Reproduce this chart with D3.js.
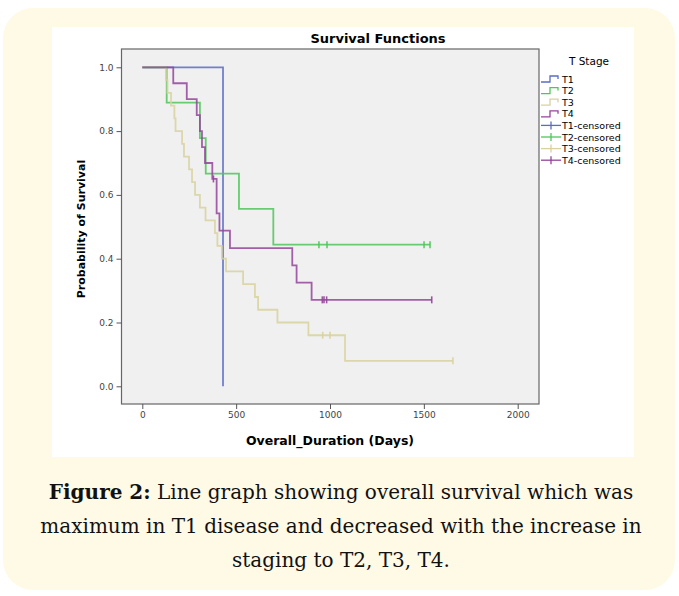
<!DOCTYPE html>
<html>
<head>
<meta charset="utf-8">
<style>
  body { margin: 0; background: #fff; }
</style>
</head>
<body>
<div id="graphic"></div>
<script src="https://d3js.org/d3.v7.min.js"></script>
<script>
// survival steps: event day -> survival after it
var stages = ["T1", "T2", "T3", "T4"];

var t1Days = [430];
var t1Surv = [0.0];
var t1Cens = [];

var t2Days = [130, 307, 338, 515, 698];
var t2Surv = [0.889, 0.778, 0.667, 0.556, 0.444];
var t2Cens = [941, 984, 1501, 1533];

var t3Days = [126, 134, 153, 171, 177, 212, 222, 249, 265, 281, 307, 337, 387, 400, 424, 446, 537, 600, 617, 720, 885, 1080];
var t3Surv = [0.96, 0.92, 0.88, 0.84, 0.80, 0.76, 0.72, 0.68, 0.64, 0.60, 0.56, 0.52, 0.48, 0.44, 0.40, 0.36, 0.32, 0.28, 0.24, 0.20, 0.16, 0.08];
var t3Cens = [961, 1000, 1655];

var t4Days = [165, 237, 290, 307, 318, 334, 373, 396, 411, 467, 799, 822, 902];
var t4Surv = [0.95, 0.90, 0.85, 0.80, 0.75, 0.70, 0.65, 0.542, 0.488, 0.433, 0.379, 0.325, 0.271];
var t4Cens = [379, 959, 968, 982, 1542];

var xTicks = [0, 500, 1000, 1500, 2000];
var yTicks = [0, 0.2, 0.4, 0.6, 0.8, 1.0];

var legendLabels = ["T1", "T2", "T3", "T4", "T1-censored", "T2-censored", "T3-censored", "T4-censored"];
var colors = ["#5b6cc4", "#4fc65a", "#d8d29e", "#93459a"];

var series = [
  {days: t1Days, surv: t1Surv, cens: t1Cens},
  {days: t2Days, surv: t2Surv, cens: t2Cens},
  {days: t3Days, surv: t3Surv, cens: t3Cens},
  {days: t4Days, surv: t4Surv, cens: t4Cens}
];

var sans = '"DejaVu Sans", Verdana, sans-serif';

var svg = d3.select("#graphic").append("svg")
    .attr("width", 679)
    .attr("height", 596);

// cream card + white figure panel
svg.append("rect").attr("x", 3).attr("y", 8).attr("width", 672).attr("height", 582)
    .attr("rx", 30).attr("fill", "#fffae6");
svg.append("rect").attr("x", 52).attr("y", 27).attr("width", 582).attr("height", 430)
    .attr("fill", "#fff");

var plot = {left: 121.5, right: 539, top: 49, bottom: 404};

var x = d3.scaleLinear().domain([0, 2000]).range([142.3, 517.7]);
var y = d3.scaleLinear().domain([0, 1]).range([386.3, 67.3]);

svg.append("rect")
    .attr("x", plot.left).attr("y", plot.top)
    .attr("width", plot.right - plot.left).attr("height", plot.bottom - plot.top)
    .attr("fill", "#f0f0f0")
    .attr("stroke", "#666").attr("stroke-width", 1.2);

svg.append("text")
    .attr("x", 378).attr("y", 43)
    .attr("text-anchor", "middle")
    .style("font-family", sans)
    .style("font-size", "13px").style("font-weight", "bold")
    .text("Survival Functions");

// axes
var gx = svg.append("g")
    .attr("transform", "translate(0," + plot.bottom + ")")
    .call(d3.axisBottom(x).tickValues(xTicks).tickSize(5).tickPadding(3).tickFormat(d3.format("d")));
var gy = svg.append("g")
    .attr("transform", "translate(" + plot.left + ",0)")
    .call(d3.axisLeft(y).tickValues(yTicks).tickSize(5).tickPadding(3).tickFormat(d3.format(".1f")));
[gx, gy].forEach(function (g) {
  g.select(".domain").remove();
  g.selectAll("line").attr("stroke", "#555");
  g.selectAll("text").attr("fill", "#444")
      .style("font-size", "9px").style("font-family", sans);
});

svg.append("text")
    .attr("x", 330).attr("y", 445)
    .attr("text-anchor", "middle")
    .style("font-family", sans)
    .style("font-size", "12.5px").style("font-weight", "bold")
    .text("Overall_Duration (Days)");

svg.append("text")
    .attr("transform", "translate(85,229) rotate(-90)")
    .attr("text-anchor", "middle")
    .style("font-family", sans)
    .style("font-size", "11px").style("font-weight", "bold")
    .text("Probability of Survival");

// step curves
var line = d3.line()
    .x(function (d) { return x(d[0]); })
    .y(function (d) { return y(d[1]); })
    .curve(d3.curveStepAfter);

function survAt(s, t) {
  var v = 1;
  for (var i = 0; i < s.days.length; i++) if (s.days[i] <= t) v = s.surv[i];
  return v;
}

series.forEach(function (s, i) {
  var pts = [[0, 1]];
  s.days.forEach(function (d, j) { pts.push([d, s.surv[j]]); });
  var last = d3.max(s.days.concat(s.cens));
  if (last > s.days[s.days.length - 1]) pts.push([last, s.surv[s.surv.length - 1]]);

  svg.append("path")
      .attr("d", line(pts))
      .attr("fill", "none")
      .attr("stroke", colors[i])
      .attr("stroke-width", 1.8)
      .attr("stroke-opacity", 0.85);

  svg.selectAll(".cens" + i)
      .data(s.cens)
      .enter().append("line")
      .attr("class", "cens" + i)
      .attr("x1", function (d) { return x(d); })
      .attr("x2", function (d) { return x(d); })
      .attr("y1", function (d) { return y(survAt(s, d)) - 3.5; })
      .attr("y2", function (d) { return y(survAt(s, d)) + 3.5; })
      .attr("stroke", colors[i])
      .attr("stroke-width", 1.6)
      .attr("stroke-opacity", 0.9);
});

// legend
svg.append("text")
    .attr("x", 589).attr("y", 65)
    .attr("text-anchor", "middle")
    .style("font-family", sans)
    .style("font-size", "10.5px")
    .text("T Stage");

var leg = svg.selectAll(".leg")
    .data(legendLabels)
    .enter().append("g")
    .attr("class", "leg")
    .attr("transform", function (d, i) { return "translate(0," + (79 + i * 11.6) + ")"; });

leg.each(function (d, i) {
  var g = d3.select(this);
  var c = colors[i % 4];
  if (i < 4) {
    g.append("path")
        .attr("d", "M541,3H550V-3H558V0")
        .attr("fill", "none").attr("stroke", c).attr("stroke-width", 1.3);
  } else {
    g.append("line").attr("x1", 541).attr("x2", 561).attr("y1", 0).attr("y2", 0)
        .attr("stroke", c).attr("stroke-width", 1.3);
    g.append("line").attr("x1", 551).attr("x2", 551).attr("y1", -4).attr("y2", 4)
        .attr("stroke", c).attr("stroke-width", 1.3);
  }
  g.append("text")
      .attr("x", 562).attr("y", 3.5)
      .style("font-family", sans)
      .style("font-size", "9.5px")
      .text(d);
});

// caption
var serif = '"DejaVu Serif", "Liberation Serif", serif';
var l1 = svg.append("text").attr("x", 341).attr("y", 499).attr("text-anchor", "middle")
    .style("font-family", serif).style("font-size", "20px").attr("fill", "#111");
l1.append("tspan").style("font-weight", "bold").text("Figure 2:");
l1.append("tspan").text(" Line graph showing overall survival which was");
svg.append("text").attr("x", 341).attr("y", 533).attr("text-anchor", "middle")
    .style("font-family", serif).style("font-size", "20px").attr("fill", "#111")
    .text("maximum in T1 disease and decreased with the increase in");
svg.append("text").attr("x", 341).attr("y", 567).attr("text-anchor", "middle")
    .style("font-family", serif).style("font-size", "20px").attr("fill", "#111")
    .text("staging to T2, T3, T4.");
</script>
</body>
</html>
